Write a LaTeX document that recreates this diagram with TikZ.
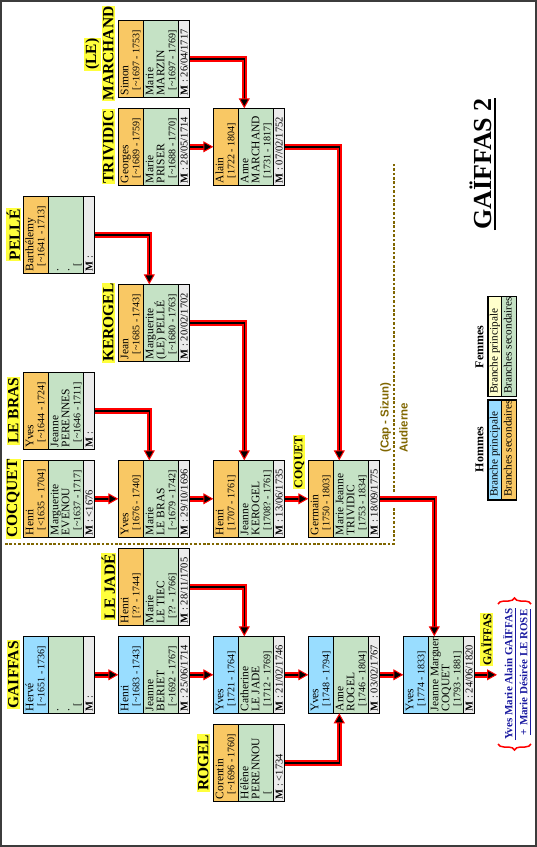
\documentclass[tikz,border=0pt]{standalone}
\usepackage{fontspec}
\setmainfont{Liberation Serif}
\newfontfamily\lsans{Liberation Sans}
\usetikzlibrary{arrows.meta,decorations.pathreplacing}
\definecolor{bluec}{RGB}{153,221,255}
\definecolor{orc}{RGB}{249,200,100}
\definecolor{femc}{RGB}{197,226,197}
\definecolor{mgray}{RGB}{235,235,235}
\definecolor{laby}{RGB}{255,255,60}
\definecolor{legy}{RGB}{255,255,204}
\definecolor{olivec}{RGB}{128,102,0}
\definecolor{navyc}{RGB}{26,26,160}
\definecolor{framec}{RGB}{60,60,60}
\newcommand\tld{\textasciitilde}
\tikzset{
  pbox/.style={draw, line width=1.2pt, minimum width=71.5pt, minimum height=77pt,
    inner sep=0pt, outer sep=0pt, anchor=north west},
  tx/.style={rotate=90, anchor=base west, inner sep=0pt, font=\fontsize{11.5}{11.5}\selectfont},
  dtx/.style={tx, font=\fontsize{10}{10}\selectfont},
  mtx/.style={tx, font=\fontsize{10.5}{10.5}\selectfont},
  ltx/.style={tx, font=\fontsize{11.2}{11.2}\selectfont},
  lab/.style={rotate=90, fill=laby, inner sep=1pt, font=\bfseries\fontsize{15.5}{15.5}\selectfont},
  slab/.style={rotate=90, fill=laby, inner sep=1pt, font=\bfseries\fontsize{12}{12}\selectfont},
  redl/.style={draw=red, line width=5.5pt, shorten >=6pt},
  blkl/.style={draw=black, line width=1.5pt,
    -{Triangle[length=10pt,width=11pt,fill=black,color=red,line width=1pt]}},
  dotl/.style={draw=olivec, line width=2.2pt, dash pattern=on 2.6pt off 1.8pt},
  olv/.style={rotate=90, anchor=base west, inner sep=0pt, text=olivec,
    font=\lsans\bfseries\fontsize{11.5}{11.5}\selectfont},
  fin/.style={rotate=90, anchor=base, inner sep=0pt, text=navyc,
    font=\bfseries\fontsize{11}{11}\selectfont},
  hdr/.style={rotate=90, inner sep=0pt, font=\bfseries\fontsize{12}{12}\selectfont}
}
\newcommand\couple[4]{%
  \fill[#4] (#2,#3) rectangle ++(24.7,77);
  \fill[femc] (#2+24.7,#3) rectangle ++(35,77);
  \fill[mgray] (#2+59.7,#3) rectangle ++(11.8,77);
  \draw[line width=1pt] (#2+24.7,#3) -- ++(0,77) (#2+59.7,#3) -- ++(0,77);
  \node[pbox] (#1) at (#2,#3) {};
}
\newcommand\ctext[7]{%
  \path ([shift={(10pt,2pt)}]#1.south west) node[tx] (#1-a) {#2}
        ([shift={(21pt,7pt)}]#1.south west) node[dtx] (#1-b) {#3}
        ([shift={(35pt,2pt)}]#1.south west) node[tx] (#1-c) {#4}
        ([shift={(46pt,2pt)}]#1.south west) node[tx] (#1-d) {#5}
        ([shift={(57pt,7pt)}]#1.south west) node[dtx] (#1-e) {#6}
        ([shift={(69.3pt,2pt)}]#1.south west) node[mtx] (#1-f) {\textbf{M} : #7};
}
\newcommand\lnk[1]{\draw[redl] #1; \draw[blkl] #1;}
\begin{document}
\begin{tikzpicture}[x=1pt,y=-1pt]
\useasboundingbox (0,0) rectangle (537,847);
\draw[framec, line width=1.5pt] (0.75,0.75) rectangle (535.8,846.2);

% dotted boundary
\draw[dotl] (5,544) -- (394,544) -- (394,507);
\draw[dotl] (394,492) -- (394,163);
\node[olv] (cap) at (388.5,453) {(Cap - Sizun)};
\node[olv] (aud) at (407.5,453) {Audierne};

% couples
\couple{hv}{23.3}{636.3}{bluec}
\ctext{hv}{Hervé}{[\tld1651 - 1736]}{.}{.}{[}{}
\couple{hn}{118.3}{636.3}{bluec}
\ctext{hn}{Henri}{[\tld1683 - 1743]}{Jeanne}{BERIET}{[\tld1692 - 1767]}{25/06/1714}
\couple{ya}{213.3}{636.3}{bluec}
\ctext{ya}{Yves}{[1721 - 1764]}{Catherine}{LE JADE}{[1712 - 1769]}{21/02/1746}
\couple{yb}{308.3}{636.3}{bluec}
\ctext{yb}{Yves}{[1748 - 1794]}{Anne}{ROGEL}{[1746 - 1804]}{03/02/1767}
\couple{yc}{403.3}{636.3}{bluec}
\ctext{yc}{Yves}{[1774 - 1833]}{Jeanne Marguer}{COQUET}{[1793 - 1881]}{24/06/1820}
\couple{rg}{213.3}{724.3}{orc}
\ctext{rg}{Corentin}{[\tld1696 - 1760]}{Hélène}{PERENNOU}{[}{<1734}
\couple{lj}{118.3}{548.3}{orc}
\ctext{lj}{Henri}{[?? - 1744]}{Marie}{LE TIEC}{[?? - 1766]}{28/11/1705}
\couple{cq}{23.3}{460.3}{orc}
\ctext{cq}{Henri}{[<1635 - 1704]}{Marguerite}{EVENOU}{[\tld1637 - 1717]}{<1676}
\couple{yv}{118.3}{460.3}{orc}
\ctext{yv}{Yves}{[1676 - 1740]}{Marie}{LE BRAS}{[\tld1679 - 1742]}{29/10/1696}
\couple{hk}{213.3}{460.3}{orc}
\ctext{hk}{Henri}{[1707 - 1761]}{Jeanne}{KEROGEL}{[1708? - 1761]}{13/06/1735}
\couple{gm}{308.3}{460.3}{orc}
\ctext{gm}{Germain}{[1750 - 1803]}{Marie Jeanne}{TRIVIDIC}{[1753 - 1834]}{18/09/1775}
\couple{lb}{23.3}{372.3}{orc}
\ctext{lb}{Yves}{[\tld1644 - 1724]}{Jeanne}{PERENNES}{[\tld1646 - 1711]}{}
\couple{jk}{118.3}{284.3}{orc}
\ctext{jk}{Jean}{[\tld1685 - 1743]}{Marguerite}{(LE) PELLÉ}{[\tld1680 - 1763]}{20/02/1702}
\couple{pl}{23.3}{196.3}{orc}
\ctext{pl}{Barthélemy}{[\tld1641 - 1713]}{.}{.}{[}{}
\couple{gt}{118.3}{108.3}{orc}
\ctext{gt}{Georges}{[\tld1689 - 1759]}{Marie}{PRISER}{[\tld1688 - 1770]}{28/05/1714}
\couple{al}{213.3}{108.3}{orc}
\ctext{al}{Alain}{[1722 - 1804]}{Anne}{MARCHAND}{[1731 - 1817]}{07/02/1752}
\couple{sm}{118.3}{20.5}{orc}
\ctext{sm}{Simon}{[\tld1697 - 1753]}{Marie}{MARZIN}{[\tld1697 - 1769]}{26/04/1717}

% family labels
\node[lab] (l-hv) at ([xshift=-10pt]hv.west) {GAIFFAS};
\node[lab] (l-lj) at ([xshift=-10pt]lj.west) {LE JADÉ};
\node[lab] (l-rg) at ([xshift=-10pt]rg.west) {ROGEL};
\node[lab] (l-cq) at ([xshift=-10pt]cq.west) {COCQUET};
\node[lab] (l-lb) at ([xshift=-10pt]lb.west) {LE BRAS};
\node[lab] (l-pl) at ([xshift=-10pt]pl.west) {PELLÉ};
\node[lab] (l-jk) at ([xshift=-10pt]jk.west) {KEROGEL};
\node[lab] (l-gt) at ([xshift=-10pt]gt.west) {TRIVIDIC};
\node[lab] (l-le) at (92.5,54) {(LE)};
\node[lab] (l-sm) at (108.3,53.5) {MARCHAND};
\node[slab] (l-gm) at (299.3,462) {COQUET};
\node[slab] (l-fin) at (486.5,639.5) {GAÏFFAS};

% connectors
\coordinate (fin) at (497,674.8);
\lnk{(hv.east) -- (hn.west)}
\lnk{(hn.east) -- (ya.west)}
\lnk{(ya.east) -- (yb.west)}
\lnk{(yb.east) -- (yc.west)}
\lnk{(yc.east) -- (fin)}
\lnk{(rg.east) -| ([xshift=31pt]yb.south west)}
\lnk{(lj.east) -| ([xshift=31pt]ya.north west)}
\lnk{(cq.east) -- (yv.west)}
\lnk{(yv.east) -- (hk.west)}
\lnk{(hk.east) -- (gm.west)}
\lnk{(gm.east) -| ([xshift=31pt]yc.north west)}
\lnk{(lb.east) -| ([xshift=31pt]yv.north west)}
\lnk{(pl.east) -| ([xshift=31pt]jk.north west)}
\lnk{(jk.east) -| ([xshift=31pt]hk.north west)}
\lnk{(gt.east) -- (al.west)}
\lnk{(sm.east) -| ([xshift=31pt]al.north west)}
\lnk{(al.east) -| ([xshift=31pt]gm.north west)}

% final couple
\node[fin] (f1) at (512.3,674.2) {Yves Marie Alain GAÏFFAS};
\node[fin] (f2) at (527.3,672.3) {+ Marie Désirée LE ROSE};
\draw[navyc, line width=1.2pt] ([xshift=2.8pt]f1.base west) -- ([xshift=2.8pt]f1.base east);
\draw[navyc, line width=1.2pt] ([xshift=2.8pt]f2.base west) -- ([xshift=2.8pt]f2.base east);
\draw[red, line width=1.5pt, decorate, decoration={brace, amplitude=6pt}] (531,744) -- (498,744);
\draw[red, line width=1.5pt, decorate, decoration={brace, amplitude=6pt}] (498,604) -- (531,604);

% title
\node[rotate=90, anchor=base, inner sep=0pt, font=\bfseries\fontsize{26}{26}\selectfont] (title) at (491.5,164) {GAÏFFAS 2};
\draw[line width=2pt] ([xshift=3.5pt]title.base west) -- ([xshift=3.5pt]title.base east);

% legend
\node[hdr] (hom) at (479.5,449.5) {Hommes};
\fill[bluec] (487.3,399.3) rectangle (501.5,499.3);
\fill[orc] (501.5,399.3) rectangle (515.7,499.3);
\draw[line width=1pt] (501.5,399.3) -- (501.5,499.3);
\node[draw, line width=1.2pt, anchor=north west, minimum width=28.4pt, minimum height=100pt, inner sep=0pt] (legh) at (487.3,399.3) {};
\node[ltx] (lh1) at (497.5,497) {Branche principale};
\node[ltx] (lh2) at (511.7,497) {Branches secondaires};
\node[hdr] (fem) at (479.5,347) {Femmes};
\fill[legy] (487.3,296) rectangle (501.5,396);
\fill[femc] (501.5,296) rectangle (515.7,396);
\draw[line width=1pt] (501.5,296) -- (501.5,396);
\node[draw, line width=1.2pt, anchor=north west, minimum width=28.4pt, minimum height=100pt, inner sep=0pt] (legf) at (487.3,296) {};
\node[ltx] (lf1) at (497.5,394) {Branche principale};
\node[ltx] (lf2) at (511.7,394) {Branches secondaires};
\end{tikzpicture}
\end{document}
